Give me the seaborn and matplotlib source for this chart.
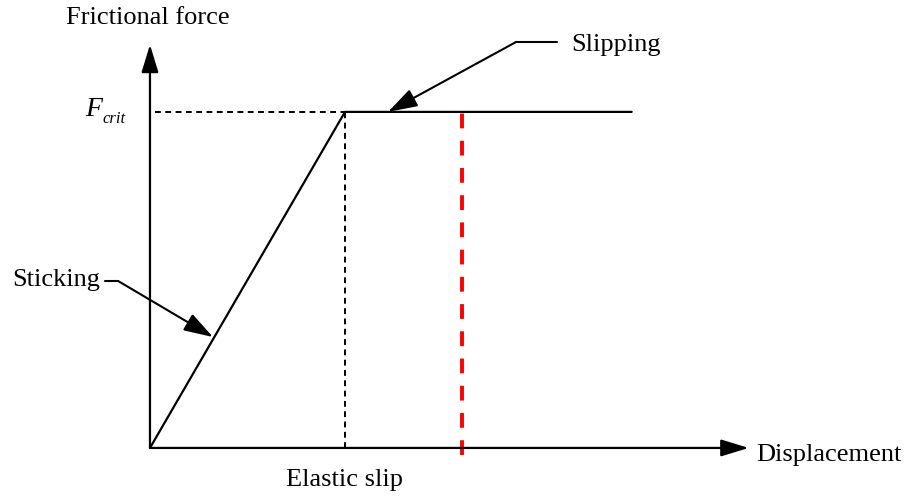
import matplotlib
matplotlib.use('Agg')
import matplotlib.pyplot as plt
import seaborn as sns
import pandas as pd

# Force-displacement curve (normalised: elastic slip = 1, F_crit = 1)
displacement = [0.0, 1.0, 2.47]
force = [0.0, 1.0, 1.0]
elastic_slip = 1.0
f_crit = 1.0
red_marker_x = 1.6
x_axis_end = 3.07
y_axis_end = 1.2

sns.set_theme(style='white')
plt.rcParams['font.family'] = ['Liberation Serif', 'DejaVu Serif']
plt.rcParams['text.color'] = 'black'

fig = plt.figure(figsize=(9.09, 4.97), dpi=100)
ax = fig.add_axes([0, 0, 1, 1])
ax.set_xlim(-0.769, 3.892)
ax.set_ylim(-0.146, 1.333)
ax.axis('off')

df = pd.DataFrame({'Displacement': displacement, 'Force': force})
sns.lineplot(data=df, x='Displacement', y='Force', sort=False, color='black',
             linewidth=1.6, ax=ax)

# guide lines
ax.plot([0.026, elastic_slip], [f_crit, f_crit], color='black', linewidth=1.4,
        linestyle=(0, (3.0, 2.3)))
ax.plot([elastic_slip, elastic_slip], [0, f_crit], color='black', linewidth=1.4,
        linestyle=(0, (3.0, 2.3)))
ax.plot([red_marker_x, red_marker_x], [-0.021, 1.009], color='red', linewidth=2.8,
        linestyle=(0, (3.8, 3.2)), solid_capstyle='butt')

# axes with arrows
ax_arrow = dict(arrowstyle='-|>,head_length=0.85,head_width=0.26', color='black',
                lw=1.6, mutation_scale=20, shrinkA=0, shrinkB=0)
ax.annotate('', xy=(x_axis_end, 0), xytext=(0, 0), arrowprops=ax_arrow)
ax.annotate('', xy=(0, y_axis_end), xytext=(0, 0), arrowprops=ax_arrow)

fs = 19
ax.text(-0.01, 1.28, 'Frictional force', ha='center', va='center', fontsize=fs)
ax.text(3.11, -0.02, 'Displacement', ha='left', va='center', fontsize=fs)
ax.text(elastic_slip, -0.095, 'Elastic slip', ha='center', va='center', fontsize=fs)
ax.text(-0.244, 1.006, 'F', ha='right', va='center', fontsize=20, style='italic')
ax.text(-0.244, 0.978, 'crit', ha='left', va='center', fontsize=12, style='italic')

# leader arrows
lead = dict(arrowstyle='-|>,head_length=1.0,head_width=0.32', color='black',
            lw=1.5, mutation_scale=18, shrinkA=0, shrinkB=0)
ax.plot([2.087, 1.877], [1.208, 1.208], color='black', linewidth=1.5)
ax.annotate('', xy=(1.221, 1.0), xytext=(1.877, 1.208), arrowprops=lead)
ax.text(2.159, 1.199, 'Slipping', ha='left', va='center', fontsize=fs)

ax.plot([-0.231, -0.164], [0.497, 0.497], color='black', linewidth=1.5)
ax.annotate('', xy=(0.323, 0.33), xytext=(-0.164, 0.497), arrowprops=lead)
ax.text(-0.256, 0.5, 'Sticking', ha='right', va='center', fontsize=fs)

fig.savefig('out.png', dpi=100)
